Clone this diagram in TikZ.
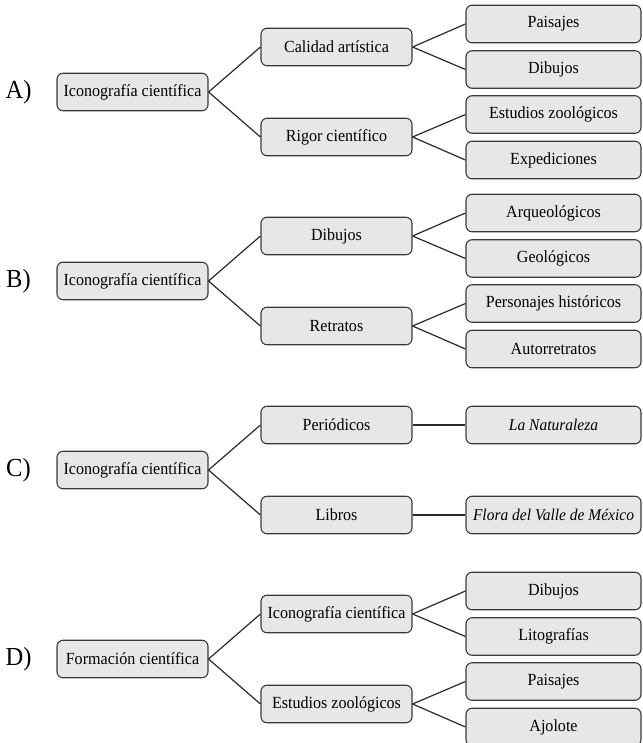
\documentclass[tikz,border=0pt]{standalone}
\usepackage{fontspec}
\setmainfont{Liberation Serif}
\newfontfamily\boxfont[FakeStretch=0.945]{Liberation Serif}
\definecolor{boxfill}{HTML}{E6E7E8}
\definecolor{boxline}{HTML}{3A3A3A}
\definecolor{conn}{HTML}{2A2A2A}
\tikzset{
  basebox/.style={draw=boxline, fill=boxfill, line width=1.1bp, rounded corners=6bp,
    minimum height=37.5bp, inner sep=0pt, font=\boxfont\fontsize{17bp}{19bp}\selectfont},
  rootbox/.style={basebox, minimum width=151bp},
  midbox/.style={basebox, minimum width=151bp},
  leafbox/.style={basebox, minimum width=175bp},
  italbox/.style={leafbox, font=\boxfont\fontsize{16.4bp}{19bp}\selectfont\itshape},
  sectlabel/.style={font=\boxfont\fontsize{26bp}{28bp}\selectfont, inner sep=0pt},
  link/.style={draw=conn, line width=1.2bp}
}
\begin{document}
\begin{tikzpicture}[x=1bp, y=-1bp]
\useasboundingbox (0,0) rectangle (643,743);
% ---------- A ----------
\node[sectlabel] (la) at (18.5,92) {A)};
\node[rootbox] (ar) at (132.5,92) {Iconografía científica};
\node[midbox] (am1) at (336.5,47) {Calidad artística};
\node[midbox] (am2) at (336.5,137) {Rigor científico};
\node[leafbox] (al1) at (553.5,24) {Paisajes};
\node[leafbox] (al2) at (553.5,69.5) {Dibujos};
\node[leafbox] (al3) at (553.5,114.5) {Estudios zoológicos};
\node[leafbox] (al4) at (553.5,160) {Expediciones};
\draw[link] (ar.east) -- (am1.west);
\draw[link] (ar.east) -- (am2.west);
\draw[link] (am1.east) -- (al1.west);
\draw[link] (am1.east) -- (al2.west);
\draw[link] (am2.east) -- (al3.west);
\draw[link] (am2.east) -- (al4.west);
% ---------- B ----------
\node[sectlabel] (lb) at (18.5,281) {B)};
\node[rootbox] (br) at (132.5,281) {Iconografía científica};
\node[midbox] (bm1) at (336.5,236) {Dibujos};
\node[midbox] (bm2) at (336.5,326) {Retratos};
\node[leafbox] (bl1) at (553.5,213) {Arqueológicos};
\node[leafbox] (bl2) at (553.5,258.5) {Geológicos};
\node[leafbox] (bl3) at (553.5,303.5) {Personajes históricos};
\node[leafbox] (bl4) at (553.5,349) {Autorretratos};
\draw[link] (br.east) -- (bm1.west);
\draw[link] (br.east) -- (bm2.west);
\draw[link] (bm1.east) -- (bl1.west);
\draw[link] (bm1.east) -- (bl2.west);
\draw[link] (bm2.east) -- (bl3.west);
\draw[link] (bm2.east) -- (bl4.west);
% ---------- C ----------
\node[sectlabel] (lc) at (18.5,470) {C)};
\node[rootbox] (cr) at (132.5,470) {Iconografía científica};
\node[midbox] (cm1) at (336.5,425) {Periódicos};
\node[midbox] (cm2) at (336.5,515) {Libros};
\node[italbox] (cl1) at (553.5,425) {La Naturaleza};
\node[italbox] (cl2) at (553.5,515) {Flora del Valle de México};
\draw[link] (cr.east) -- (cm1.west);
\draw[link] (cr.east) -- (cm2.west);
\draw[link] (cm1.east) -- (cl1.west);
\draw[link] (cm2.east) -- (cl2.west);
% ---------- D ----------
\node[sectlabel] (ld) at (18.5,659) {D)};
\node[rootbox] (dr) at (132.5,659) {Formación científica};
\node[midbox] (dm1) at (336.5,614) {Iconografía científica};
\node[midbox] (dm2) at (336.5,704) {Estudios zoológicos};
\node[leafbox] (dl1) at (553.5,591) {Dibujos};
\node[leafbox] (dl2) at (553.5,636.5) {Litografías};
\node[leafbox] (dl3) at (553.5,681.5) {Paisajes};
\node[leafbox] (dl4) at (553.5,727) {Ajolote};
\draw[link] (dr.east) -- (dm1.west);
\draw[link] (dr.east) -- (dm2.west);
\draw[link] (dm1.east) -- (dl1.west);
\draw[link] (dm1.east) -- (dl2.west);
\draw[link] (dm2.east) -- (dl3.west);
\draw[link] (dm2.east) -- (dl4.west);
\end{tikzpicture}
\end{document}
